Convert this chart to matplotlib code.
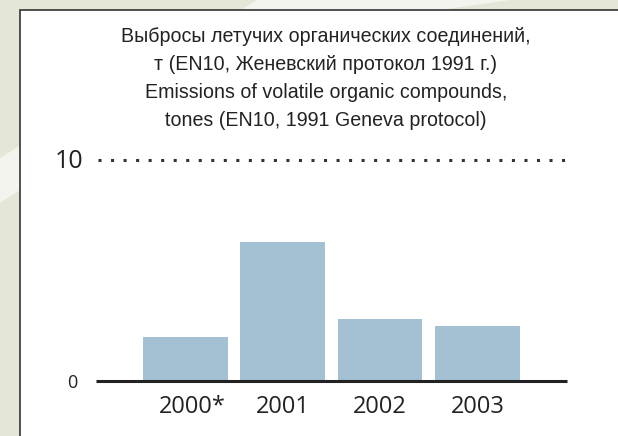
import matplotlib
matplotlib.use("Agg")
import matplotlib.pyplot as plt
from matplotlib.patches import Rectangle, Polygon
import matplotlib.transforms as mtransforms

# ---- data ----
years = ["2000*", "2001", "2002", "2003"]
values = [2.0, 6.3, 2.8, 2.5]
ytick_values = [0, 10]
ytick_labels = ["0", "10"]
title_lines = [
    "Выбросы летучих органических соединений,",
    "т (EN10, Женевский протокол 1991 г.)",
    "Emissions of volatile organic compounds,",
    "tones (EN10, 1991 Geneva protocol)",
]

W, H = 618, 436
fig = plt.figure(figsize=(W / 100, H / 100), dpi=100)
fig.patch.set_facecolor("#E4E6D8")

def px(x, y):
    return (x / W, 1 - y / H)

# light swoosh in the background
light = Polygon([px(0, 158), px(257, 0), px(510, 0), px(447, 9), px(447, 14),
                 px(20, 190), px(0, 203)], closed=True,
                transform=fig.transFigure, facecolor="#F3F4EE", edgecolor="none", zorder=0)
fig.patches.append(light)

# white panel with border
panel = Rectangle(px(19.5, 460), (W + 20) / W, 450 / H, transform=fig.transFigure,
                  facecolor="white", edgecolor="#333333", linewidth=1.2, zorder=1)
fig.patches.append(panel)

# axes
left_px, right_px = 96.5, 575
bottom_px, top_px = 381.3, 160
ax = fig.add_axes([left_px / W, 1 - bottom_px / H, (right_px - left_px) / W, (bottom_px - top_px) / H])
ax.set_zorder(5)
ax.set_facecolor("none")
ax.set_xlim(-0.911, 4.0)
ax.set_ylim(0, 10)
for s in ax.spines.values():
    s.set_visible(False)

x = list(range(len(years)))
ax.bar(x, values, width=0.867, color="#A3C1D3", zorder=2)

# zero line and dotted line at 10
ax.hlines(0, -0.911, 3.918, color="#222222", linewidth=2.2, zorder=3, clip_on=False)
ax.hlines(10, -0.898, 3.99, color="#333333", linewidth=2.2, linestyles=(0, (1, 3.1)),
          zorder=3, clip_on=False)

# x tick labels
ax.set_xticks(x)
ax.set_xticklabels(years, fontfamily="Open Sans", fontsize=17, color="#222222")
ax.tick_params(axis="x", length=0, pad=10)
# keep "2000" centred under its bar, asterisk hanging to the right
lab0 = ax.get_xticklabels()[0]
lab0.set_transform(lab0.get_transform() + mtransforms.ScaledTranslation(7.5 / 100, 0, fig.dpi_scale_trans))

ax.set_yticks([])

# y labels
blend = mtransforms.blended_transform_factory(ax.transAxes, ax.transData)
ax.text(-0.0282, ytick_values[1] - 0.08, ytick_labels[1], transform=blend, ha="right", va="center",
        fontfamily="Open Sans", fontsize=18, color="#222222")
ax.text(-0.0408, ytick_values[0] - 0.08, ytick_labels[0], transform=blend, ha="right", va="center",
        fontfamily="Open Sans", fontsize=13, color="#222222")

# title (one text per line)
title_y = [37, 65, 92, 120]
for line, yy in zip(title_lines, title_y):
    fig.text(326 / W, 1 - yy / H, line, ha="center", va="center",
             fontfamily="Liberation Sans", fontsize=14.1, color="#222222", zorder=6)

fig.savefig("out.png", dpi=100, facecolor=fig.get_facecolor())
